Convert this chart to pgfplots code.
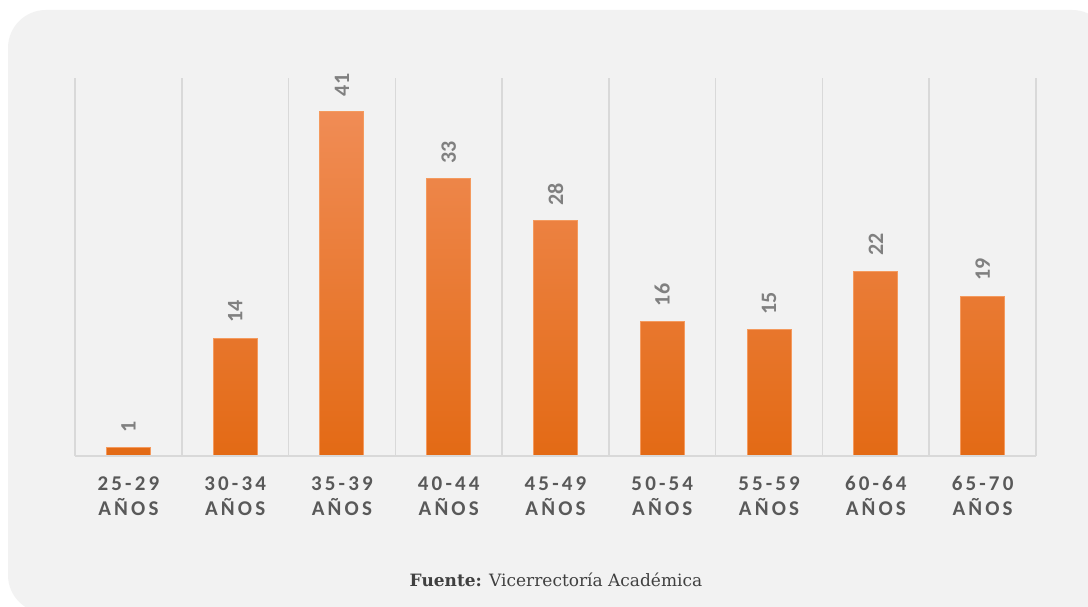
\documentclass[border=0pt]{standalone}
\usepackage{fontspec}
\setmainfont{Carlito}
\newfontfamily\catfont[LetterSpace=15]{Carlito}
\newfontfamily\footfont{DejaVu Serif}
\usepackage{pgfplots}
\pgfplotsset{compat=1.18}
\definecolor{bgc}{HTML}{F2F2F2}
\definecolor{gridc}{HTML}{D9D9D9}
\definecolor{valc}{HTML}{808080}
\definecolor{catc}{HTML}{595959}
\definecolor{foot}{HTML}{404040}
\definecolor{bartop}{HTML}{F08C55}
\definecolor{barmid}{HTML}{F57F27}
\definecolor{barbot}{HTML}{E36A15}
\definecolor{baredge}{HTML}{F49A5E}
\newcommand\cl[1]{\rule{0pt}{16pt}#1\\AÑOS}
\begin{document}
\begin{tikzpicture}[x=1pt,y=1pt]
\path[use as bounding box] (0,0) rectangle (1088,607);
\fill[white] (0,0) rectangle (1088,607);
\begin{scope}
\clip (0,0) rectangle (1088,607);
\fill[bgc, rounded corners=38pt] (8,-6) rectangle (1110,597);
\end{scope}
\begin{axis}[
  at={(75pt,151pt)}, anchor=south west,
  width=961pt, height=378pt, scale only axis,
  xmin=-0.5, xmax=8.5, ymin=0, ymax=45,
  axis line style={draw=none},
  ytick=\empty,
  xtick={0,1,2,3,4,5,6,7,8},
  xticklabels={{\cl{25-29}},{\cl{30-34}},{\cl{35-39}},{\cl{40-44}},{\cl{45-49}},{\cl{50-54}},{\cl{55-59}},{\cl{60-64}},{\cl{65-70}}},
  xticklabel style={align=center, inner sep=0pt, anchor=north, yshift=-18.5pt,
     font=\catfont\bfseries\fontsize{21}{25}\selectfont, text=catc},
  minor xtick={-0.5,0.5,...,8.5},
  xminorgrids,
  minor grid style={draw=gridc, line width=1.5pt},
  major tick length=0pt, minor tick length=0pt,
  clip=false,
  /pgf/number format/assume math mode=true,
  nodes near coords,
  every node near coord/.append style={rotate=90, anchor=west, inner xsep=15pt, inner ysep=0pt,
     font=\bfseries\fontsize{22}{22}\selectfont, text=valc},
]
\addplot[ybar, bar width=44pt, bar shift=0pt, draw=baredge, line width=1pt,
  top color=bartop, middle color=barmid, bottom color=barbot]
  coordinates {(0,1) (1,14) (2,41) (3,33) (4,28) (5,16) (6,15) (7,22) (8,19)};
\draw[gridc, line width=2pt] (rel axis cs:0,0) -- (rel axis cs:1,0);
\end{axis}
\node[anchor=base, text=foot, font=\footfont\fontsize{17}{17}\selectfont] at (556,20) {\textbf{Fuente:} Vicerrectoría Académica};
\end{tikzpicture}
\end{document}
